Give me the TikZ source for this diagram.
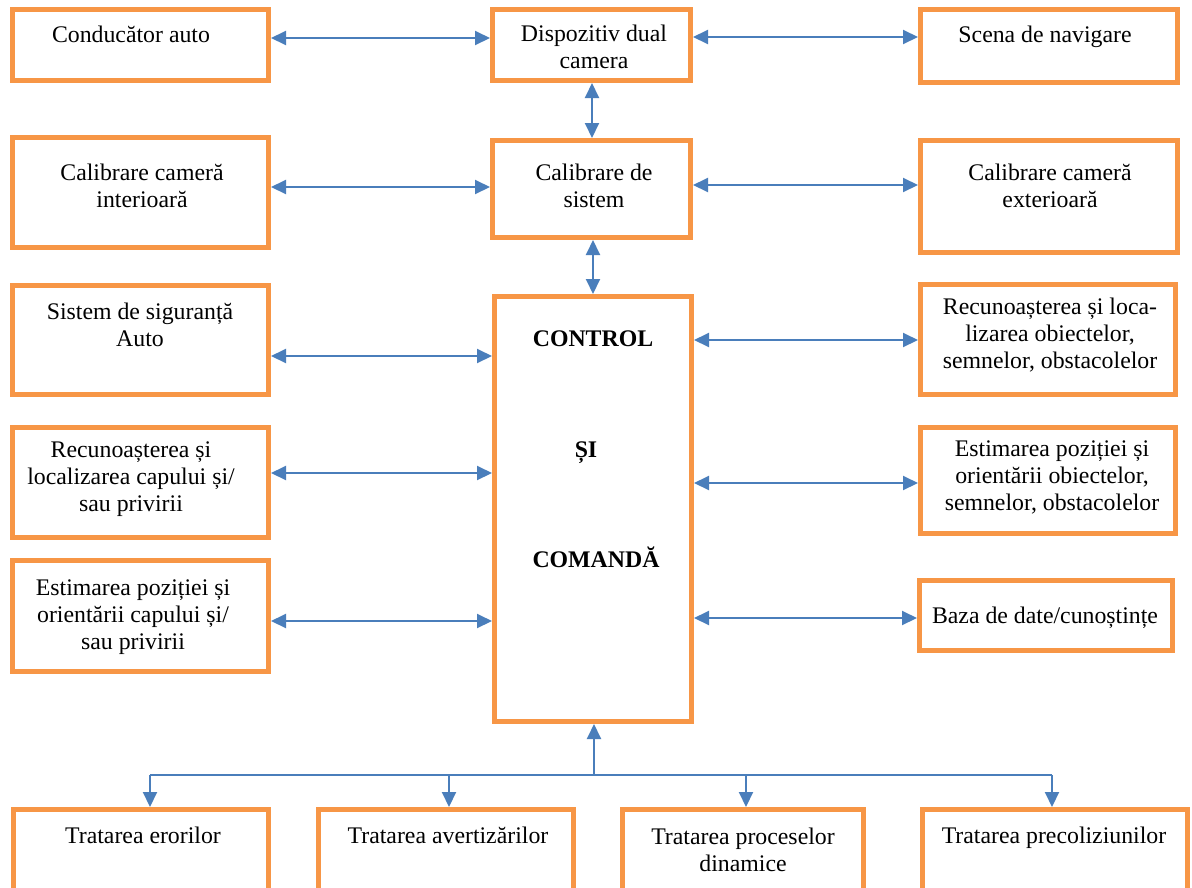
\documentclass[tikz,border=0pt]{standalone}
\usepackage{fontspec}
\setmainfont{Liberation Serif}
\usetikzlibrary{arrows.meta}
\definecolor{boxorange}{RGB}{247,150,70}
\definecolor{linkblue}{RGB}{74,126,187}
\begin{document}
\begin{tikzpicture}[x=1pt,y=-1pt,
  box/.style={draw=boxorange, line width=5pt, inner sep=0pt, rectangle},
  tx/.style={align=center, inner sep=0pt, anchor=base, font=\fontsize{23.8}{27}\selectfont},
  txb/.style={tx, font=\fontsize{23.8}{27}\selectfont\bfseries},
  tipx/.tip={Triangle[length=15pt,width=14pt]},
  link/.style={draw=linkblue, line width=2pt},
  both/.style={link, tipx-tipx},
  down/.style={link, -tipx}]
\useasboundingbox (0,0) rectangle (1192,887);
\clip (0,0) rectangle (1192,887);
\fill[white] (0,0) rectangle (1192,887);

% left column
\node[box, minimum width=256pt, minimum height=71pt]  (L1) at (140.5,45) {};
\node[box, minimum width=256pt, minimum height=110pt] (L2) at (140.5,192.5) {};
\node[box, minimum width=256pt, minimum height=109pt] (L3) at (140.5,340) {};
\node[box, minimum width=256pt, minimum height=110pt] (L4) at (140.5,482.5) {};
\node[box, minimum width=256pt, minimum height=111pt] (L5) at (140.5,616) {};

% centre column
\node[box, minimum width=198pt, minimum height=71pt]  (C1) at (591.5,45) {};
\node[box, minimum width=198pt, minimum height=97pt]  (C2) at (591.5,189) {};
\node[box, minimum width=197pt, minimum height=425pt] (C3) at (593,509) {};

% right column
\node[box, minimum width=257pt, minimum height=73pt]  (R1) at (1049,46) {};
\node[box, minimum width=257pt, minimum height=112pt] (R2) at (1049,196.5) {};
\node[box, minimum width=255pt, minimum height=110pt] (R3) at (1048,339.5) {};
\node[box, minimum width=255pt, minimum height=106pt] (R4) at (1048,480.5) {};
\node[box, minimum width=253pt, minimum height=70pt]  (R5) at (1046,615.5) {};

% bottom row
\node[box, minimum width=255pt, minimum height=100pt] (B1) at (141,859.5) {};
\node[box, minimum width=255pt, minimum height=100pt] (B2) at (446,859.5) {};
\node[box, minimum width=241pt, minimum height=100pt] (B3) at (743,859.5) {};
\node[box, minimum width=265pt, minimum height=100pt] (B4) at (1055,859.5) {};

% texts (anchored at the baseline of the last line)
\node[tx] (tL1) at (131,42)  {Conducător auto};
\node[tx] (tL2) at (142,207) {Calibrare cameră\\interioară};
\node[tx] (tL3) at (140,346) {Sistem de siguranță\\Auto};
\node[tx] (tL4) at (131,511) {Recunoașterea și\\localizarea capului și/\\sau privirii};
\node[tx] (tL5) at (133,649) {Estimarea poziției și\\orientării capului și/\\sau privirii};

\node[tx] (tC1) at (594,68)  {Dispozitiv dual\\camera};
\node[tx] (tC2) at (594,207) {Calibrare de\\sistem};
\node[txb] (tC3a) at (593,346) {CONTROL};
\node[txb] (tC3b) at (586,457) {ȘI};
\node[txb] (tC3c) at (596,567) {COMANDĂ};

\node[tx] (tR1) at (1045,42)  {Scena de navigare};
\node[tx] (tR2) at (1050,207) {Calibrare cameră\\exterioară};
\node[tx] (tR3) at (1050,368) {Recunoașterea și loca-\\lizarea obiectelor,\\semnelor, obstacolelor};
\node[tx] (tR4) at (1052,510) {Estimarea poziției și\\orientării obiectelor,\\semnelor, obstacolelor};
\node[tx] (tR5) at (1045,623) {Baza de date/cunoștințe};

\node[tx] (tB1) at (143,843)  {Tratarea erorilor};
\node[tx] (tB2) at (448,843)  {Tratarea avertizărilor};
\node[tx] (tB3) at (743,871)  {Tratarea proceselor\\dinamice};
\node[tx] (tB4) at (1054,843) {Tratarea precoliziunilor};

% left links
\draw[both] (L1.east |- 0,38)  -- (C1.west |- 0,38);
\draw[both] (L2.east |- 0,187) -- (C2.west |- 0,187);
\draw[both] (L3.east |- 0,356) -- (C3.west |- 0,356);
\draw[both] (L4.east |- 0,473) -- (C3.west |- 0,473);
\draw[both] (L5.east |- 0,621) -- (C3.west |- 0,621);

% right links
\draw[both] (C1.east |- 0,37)  -- (R1.west |- 0,37);
\draw[both] (C2.east |- 0,185) -- (R2.west |- 0,185);
\draw[both] (C3.east |- 0,340) -- (R3.west |- 0,340);
\draw[both] (C3.east |- 0,483) -- (R4.west |- 0,483);
\draw[both] (C3.east |- 0,618) -- (R5.west |- 0,618);

% vertical links in the centre column
\draw[both] (C1.south -| 592,0) -- (C2.north -| 592,0);
\draw[both] (C2.south -| 593,0) -- (C3.north -| 593,0);

% bottom distribution
\coordinate (hub) at (594,775);
\coordinate (d1) at (150,775);
\coordinate (d2) at (449,775);
\coordinate (d3) at (746,775);
\coordinate (d4) at (1052,775);
\draw[link] (d1) -- (d4);
\draw[down] (hub) -- (C3.south -| hub);
\draw[down] (d1) -- (d1 |- B1.north);
\draw[down] (d2) -- (d2 |- B2.north);
\draw[down] (d3) -- (d3 |- B3.north);
\draw[down] (d4) -- (d4 |- B4.north);
\end{tikzpicture}
\end{document}
